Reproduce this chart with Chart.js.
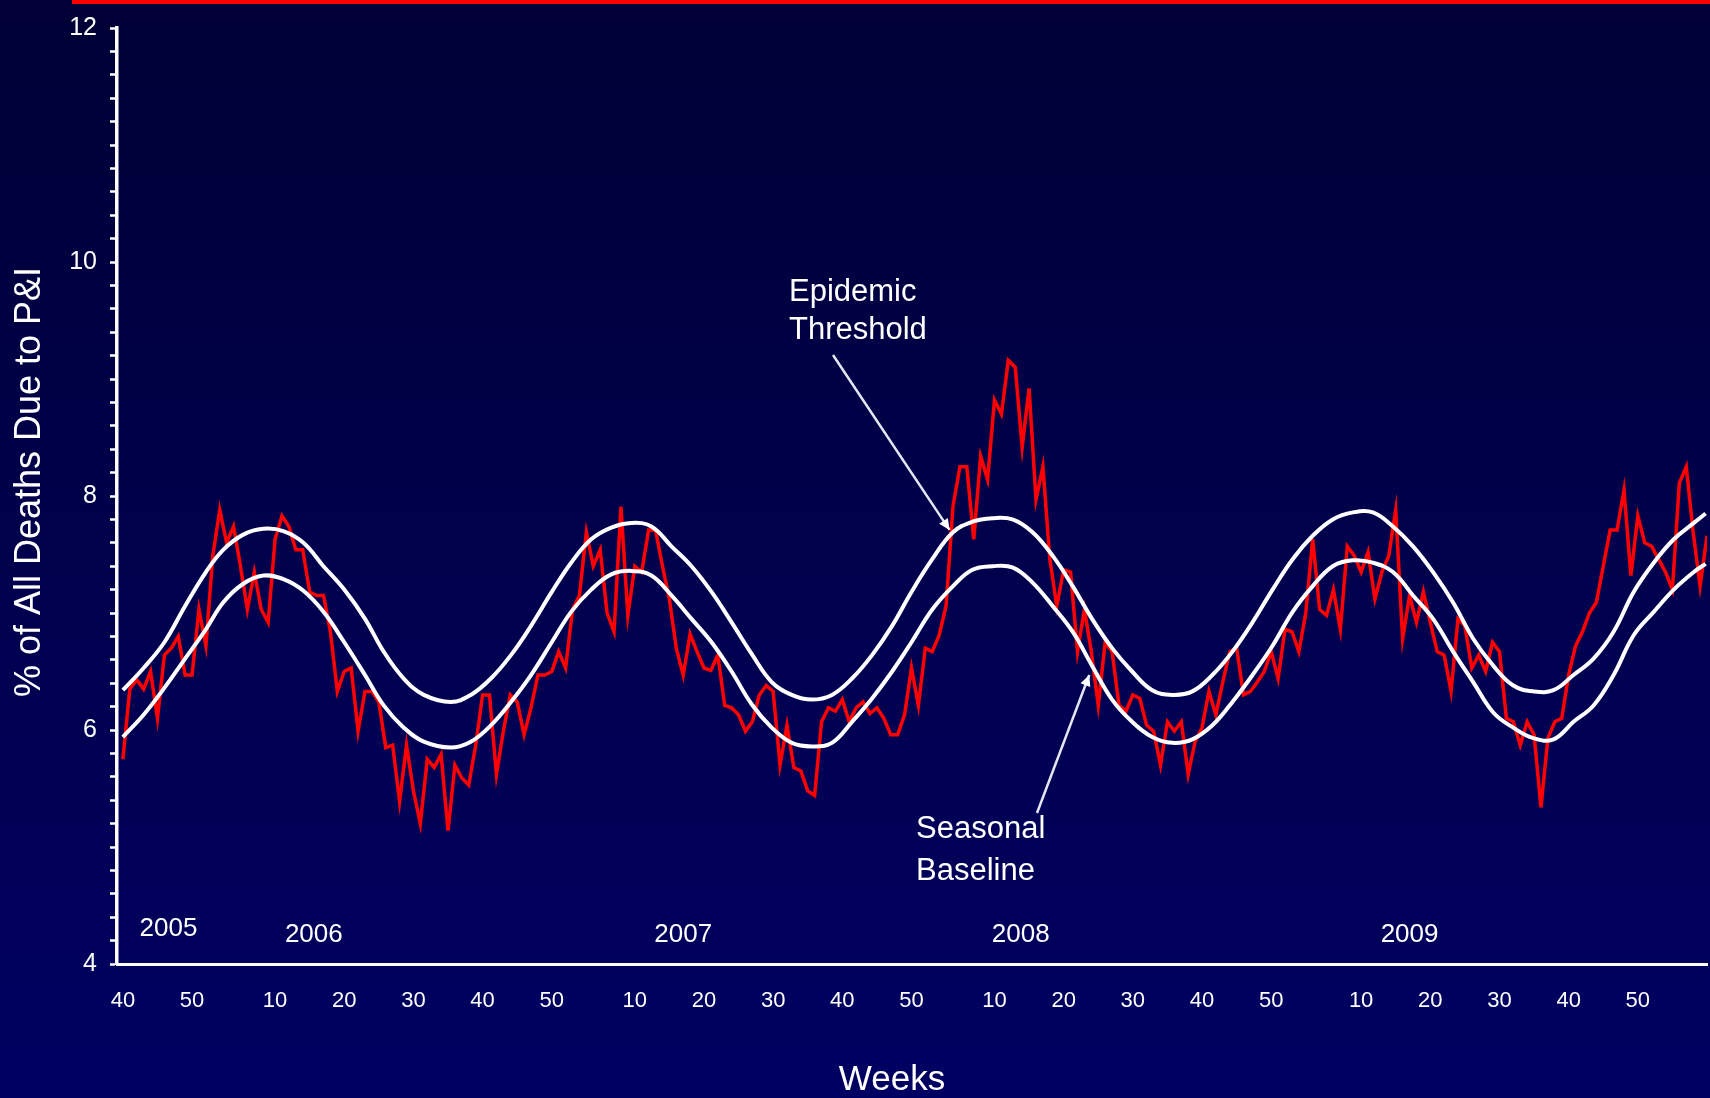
<!DOCTYPE html>
<html>
<head>
<meta charset="utf-8">
<script src="https://cdn.jsdelivr.net/npm/chart.js@4.4.1/dist/chart.umd.min.js"></script>
<style>
html, body { margin: 0; padding: 0; background: #000048; }
canvas { display: block; }
</style>
</head>
<body>
<canvas id="myChart" width="1710" height="1098"></canvas>
<script>
// weekly % of all deaths due to P&I, first point = 2005 week 40
var pctPI = [
  5.75, 6.35, 6.43, 6.35, 6.50, 6.10, 6.64, 6.70, 6.80, 6.47,
  6.47, 7.03, 6.72, 7.49, 7.88, 7.60, 7.74, 7.40, 7.03, 7.35,
  7.03, 6.92, 7.63, 7.83, 7.74, 7.54, 7.54, 7.18, 7.15, 7.15,
  6.84, 6.33, 6.50, 6.53, 5.99, 6.33, 6.33, 6.24, 5.85, 5.87,
  5.39, 5.87, 5.48, 5.20, 5.75, 5.68, 5.79, 5.14, 5.70, 5.59,
  5.53, 5.87, 6.30, 6.30, 5.62, 5.99, 6.30, 6.24, 5.96, 6.19,
  6.47, 6.47, 6.50, 6.67, 6.53, 7.03, 7.15, 7.69, 7.40, 7.54,
  7.00, 6.84, 7.91, 6.98, 7.40, 7.35, 7.71, 7.71, 7.40, 7.12,
  6.70, 6.47, 6.82, 6.67, 6.53, 6.51, 6.64, 6.21, 6.19, 6.13,
  5.99, 6.07, 6.30, 6.38, 6.33, 5.70, 6.04, 5.68, 5.65, 5.48,
  5.44, 6.07, 6.19, 6.16, 6.26, 6.07, 6.19, 6.24, 6.14, 6.19,
  6.10, 5.96, 5.96, 6.13, 6.53, 6.21, 6.70, 6.67, 6.81, 7.06,
  7.91, 8.25, 8.25, 7.63, 8.34, 8.14, 8.82, 8.70, 9.16, 9.10,
  8.42, 8.92, 7.97, 8.25, 7.46, 7.06, 7.37, 7.35, 6.67, 7.03,
  6.67, 6.21, 6.75, 6.67, 6.21, 6.16, 6.30, 6.27, 6.04, 5.99,
  5.70, 6.07, 5.99, 6.07, 5.62, 5.90, 6.02, 6.33, 6.13, 6.41,
  6.67, 6.70, 6.30, 6.33, 6.41, 6.50, 6.67, 6.44, 6.86, 6.84,
  6.67, 7.00, 7.63, 7.03, 6.98, 7.20, 6.86, 7.57, 7.49, 7.35,
  7.52, 7.12, 7.35, 7.49, 7.88, 6.78, 7.15, 6.92, 7.18, 6.92,
  6.67, 6.64, 6.33, 6.95, 6.89, 6.53, 6.64, 6.50, 6.75, 6.67,
  6.10, 6.07, 5.87, 6.07, 5.96, 5.34, 5.93, 6.07, 6.10, 6.47,
  6.72, 6.84, 7.00, 7.09, 7.40, 7.71, 7.71, 8.05, 7.32, 7.83,
  7.60, 7.57, 7.46, 7.35, 7.20, 8.11, 8.25, 7.69, 7.23, 7.66
];

// points (weeks since 2005 week 40)
var curveWeeks = [
  0, 3, 6, 9, 12, 14.5, 17.4, 20.3, 23.2, 26.1, 29, 32, 35, 37.7, 40.6, 43.5,
  47.4, 50.3, 53.2, 56.1, 59, 62, 64.8, 67.7, 70.6, 73.5, 76.4, 79.3, 82.2, 85.1,
  88, 90.9, 93.8, 96.7, 99.6, 102.5, 105.4, 108.3, 111.2, 114, 117, 120, 122.8,
  125.7, 128.6, 131.5, 134.4, 137.3, 140.1, 143, 145.9, 148.8, 151.7, 154.6,
  157.5, 160.4, 163.3, 166.2, 169.1, 172, 174.9, 177.8, 180.7, 183.6, 186.5,
  189.4, 192.3, 195.2, 198.1, 201, 203.9, 206.8, 209.7, 212.6, 215.5, 218.4,
  221.3, 224.2, 227.1, 228.8
];
var threshold = [
  6.34, 6.53, 6.75, 7.06, 7.35, 7.54, 7.67, 7.72, 7.70, 7.60, 7.40, 7.20, 6.95, 6.67, 6.44, 6.30,
  6.24, 6.30, 6.44, 6.64, 6.89, 7.18, 7.43, 7.63, 7.73, 7.77, 7.74, 7.57, 7.40, 7.18,
  6.92, 6.65, 6.41, 6.30, 6.26, 6.30, 6.44, 6.64, 6.89, 7.18, 7.46, 7.69, 7.78,
  7.81, 7.80, 7.69, 7.49, 7.23, 6.95, 6.70, 6.50, 6.34, 6.30, 6.33,
  6.47, 6.67, 6.92, 7.20, 7.46, 7.66, 7.80, 7.86, 7.86, 7.74, 7.57,
  7.35, 7.09, 6.78, 6.55, 6.38, 6.33, 6.34, 6.47, 6.61, 6.84, 7.18,
  7.43, 7.63, 7.77, 7.85
];
var baseline = [
  5.94, 6.13, 6.36, 6.61, 6.86, 7.09, 7.25, 7.32, 7.29, 7.19, 7.01, 6.75, 6.47, 6.21, 6.02, 5.90,
  5.85, 5.90, 6.04, 6.24, 6.47, 6.75, 7.01, 7.20, 7.33, 7.36, 7.32, 7.15, 6.95, 6.75,
  6.50, 6.22, 6.02, 5.89, 5.86, 5.89, 6.07, 6.27, 6.50, 6.75, 7.03, 7.23, 7.37,
  7.40, 7.39, 7.26, 7.06, 6.84, 6.55, 6.26, 6.07, 5.94, 5.89, 5.92,
  6.04, 6.24, 6.47, 6.72, 7.01, 7.23, 7.40, 7.45, 7.43, 7.35, 7.15,
  6.95, 6.67, 6.41, 6.15, 6.02, 5.93, 5.92, 6.07, 6.21, 6.47, 6.81,
  7.01, 7.20, 7.35, 7.42
];

// x tick labels (week of year) and the week index each one sits on
var tickWeeks  = [0, 10, 22, 32, 42, 52, 62, 74, 84, 94, 104, 114, 126, 136, 146, 156, 166, 179, 189, 199, 209, 219];
var tickLabels = ['40','50','10','20','30','40','50','10','20','30','40','50','10','20','30','40','50','10','20','30','40','50'];
var yearLabels = ['2005', '2006', '2007', '2008', '2009'];

var FONT = "'Liberation Sans', Arial, sans-serif";
Chart.defaults.font.family = FONT;

function arrow(c, x1, y1, x2, y2) {
  c.beginPath();
  c.moveTo(x1, y1);
  c.lineTo(x2, y2);
  c.stroke();
  var a = Math.atan2(y2 - y1, x2 - x1), s = 12;
  c.beginPath();
  c.moveTo(x2, y2);
  c.lineTo(x2 - s * Math.cos(a - 0.45), y2 - s * Math.sin(a - 0.45));
  c.lineTo(x2 - s * Math.cos(a + 0.45), y2 - s * Math.sin(a + 0.45));
  c.closePath();
  c.fill();
}

// background, top red rule, axis titles, year labels and the two call-outs
var decor = {
  id: 'decor',
  beforeDraw: function (chart) {
    var c = chart.ctx;
    var g = c.createLinearGradient(0, 0, 0, chart.height);
    g.addColorStop(0, '#000036');
    g.addColorStop(1, '#000062');
    c.save();
    c.fillStyle = g;
    c.fillRect(0, 0, chart.width, chart.height);
    c.fillStyle = '#ff0000';
    c.fillRect(72, 0, chart.width - 72, 4);
    c.restore();
  },
  afterDraw: function (chart) {
    var c = chart.ctx, xs = chart.scales.x, ys = chart.scales.y, a = chart.chartArea;
    c.save();
    c.fillStyle = '#ffffff';
    c.textBaseline = 'middle';

    // year labels
    var yearAt = [6.6, 27.6, 81, 129.8, 186];
    c.font = '26px ' + FONT;
    c.textAlign = 'center';
    yearLabels.forEach(function (t, k) {
      c.fillText(t, xs.getPixelForValue(yearAt[k]), a.bottom - (k === 0 ? 35 : 29));
    });

    // axis titles
    c.font = '35px ' + FONT;
    c.fillText('Weeks', 892, 1080);
    c.save();
    c.translate(30, 482);
    c.rotate(-Math.PI / 2);
    c.font = '36px ' + FONT;
    c.fillText('% of All Deaths Due to P&I', 0, 0);
    c.restore();

    // call-outs
    c.font = '31px ' + FONT;
    c.textAlign = 'left';
    c.fillText('Epidemic', 789, 292);
    c.fillText('Threshold', 789, 330);
    c.fillText('Seasonal', 916, 829);
    c.fillText('Baseline', 916, 871);

    c.strokeStyle = '#e6e6f2';
    c.fillStyle = '#ffffff';
    c.lineWidth = 2.5;
    arrow(c, 833, 355, xs.getPixelForValue(119.5), ys.getPixelForValue(7.71));
    arrow(c, 1037, 813, xs.getPixelForValue(139.7), ys.getPixelForValue(6.47));
    c.restore();
  }
};

var ctx = document.getElementById('myChart');
var myChart = new Chart(ctx, {
  type: 'line',
  data: {
    datasets: [
      {
        label: 'Epidemic Threshold',
        data: curveWeeks.map(function (w, k) { return { x: w, y: threshold[k] }; }),
        borderColor: '#ffffff',
        borderWidth: 4,
        pointRadius: 0,
        tension: 0.4,
        fill: false
      },
      {
        label: 'Seasonal Baseline',
        data: curveWeeks.map(function (w, k) { return { x: w, y: baseline[k] }; }),
        borderColor: '#ffffff',
        borderWidth: 4,
        pointRadius: 0,
        tension: 0.4,
        fill: false
      },
      {
        label: '% of All Deaths Due to P&I',
        data: pctPI.map(function (v, k) { return { x: k, y: v }; }),
        borderColor: '#ff0000',
        borderWidth: 3.5,
        pointRadius: 0,
        tension: 0,
        fill: false
      }
    ]
  },
  options: {
    responsive: false,
    animation: false,
    devicePixelRatio: 1,
    layout: { padding: { top: 22, right: 3, left: 0, bottom: 0 } },
    plugins: { legend: { display: false }, tooltip: { enabled: false } },
    scales: {
      x: {
        type: 'linear',
        min: -0.85,
        max: 229,
        afterBuildTicks: function (s) { s.ticks = tickWeeks.map(function (w) { return { value: w }; }); },
        afterFit: function (s) { s.height = 134; },
        grid: { display: false, drawTicks: false },
        border: { color: '#ffffff', width: 3 },
        ticks: {
          color: '#ffffff',
          font: { size: 22 },
          padding: 24,
          autoSkip: false,
          maxRotation: 0,
          callback: function (v, i) { return tickLabels[i]; }
        }
      },
      y: {
        min: 4,
        max: 12,
        afterFit: function (s) { s.width = 117; },
        grid: { drawOnChartArea: false, drawTicks: true, tickLength: 7, tickColor: '#ffffff', tickWidth: 2.5 },
        border: { color: '#ffffff', width: 3.5 },
        ticks: {
          color: '#ffffff',
          font: { size: 25 },
          padding: 13,
          stepSize: 0.2,
          autoSkip: false,
          callback: function (v) {
            var r = Math.round(v);
            return (Math.abs(v - r) < 1e-6 && r % 2 === 0) ? String(r) : '';
          }
        }
      }
    }
  },
  plugins: [decor]
});
</script>
</body>
</html>
